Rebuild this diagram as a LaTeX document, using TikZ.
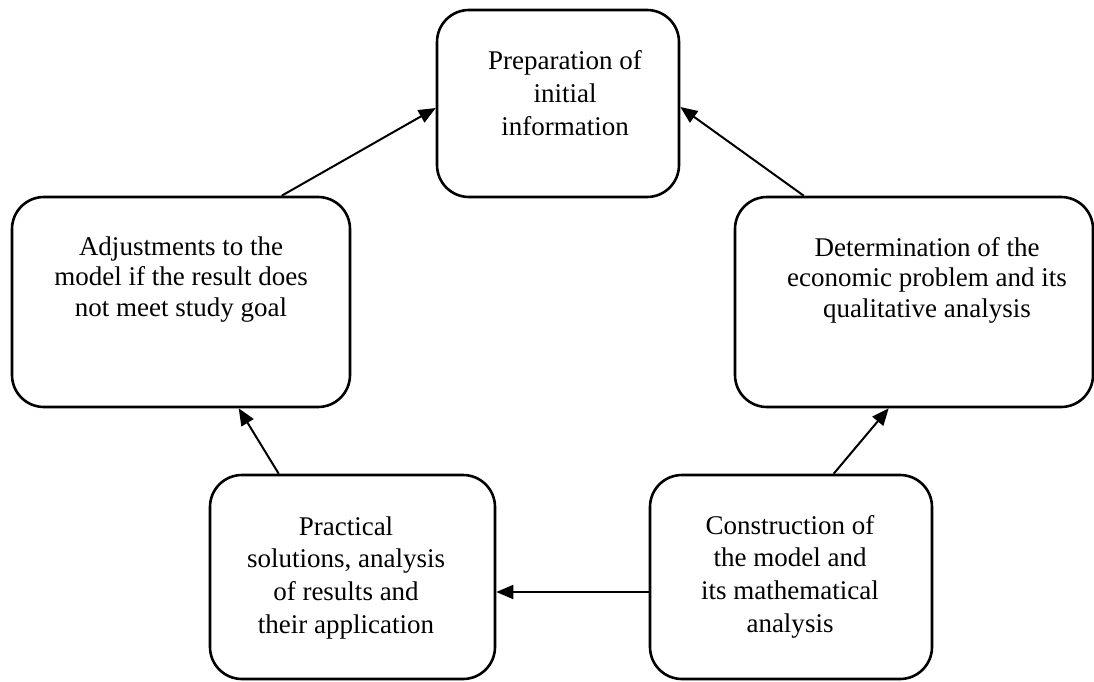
\documentclass[tikz,border=0pt]{standalone}
\usepackage{fontspec}
\setmainfont{Liberation Serif}
\usetikzlibrary{arrows.meta}
\newcommand{\txtlines}[1]{\setlength{\tabcolsep}{0pt}\begin{tabular}[t]{c}#1\end{tabular}}
\begin{document}
\begin{tikzpicture}[x=1pt,y=-1pt,
  box/.style={draw, line width=2.6pt, rounded corners=32pt, inner sep=0pt},
  lbl/.style={inner sep=0pt, anchor=base},
  arr/.style={line width=2pt, -{Triangle[length=17pt,width=14pt]}}]
\useasboundingbox (0,0) rectangle (1094,682);
% boxes
\node[box, minimum width=242pt, minimum height=187pt] (top) at (558,103.5) {};
\node[box, minimum width=338pt, minimum height=210pt] (lft) at (181,302) {};
\node[box, minimum width=358pt, minimum height=210pt] (rgt) at (914,302) {};
\node[box, minimum width=285pt, minimum height=204pt] (bl) at (352.5,577) {};
\node[box, minimum width=282pt, minimum height=204pt] (br) at (791,577) {};
% texts
\node[lbl, font=\fontsize{27}{33}\selectfont] (toptxt) at (565,70)
  {\txtlines{Preparation of\\ initial\\ information}};
\node[lbl, font=\fontsize{27}{30.5}\selectfont] (lfttxt) at (181,255)
  {\txtlines{Adjustments to the\\ model if the result does\\ not meet study goal}};
\node[lbl, font=\fontsize{27}{30.5}\selectfont] (rgttxt) at (927,256)
  {\txtlines{Determination of the\\ economic problem and its\\ qualitative analysis}};
\node[lbl, font=\fontsize{27}{32.7}\selectfont] (bltxt) at (346,535)
  {\txtlines{Practical\\ solutions, analysis\\ of results and\\ their application}};
\node[lbl, font=\fontsize{27}{32.7}\selectfont] (brtxt) at (790,534)
  {\txtlines{Construction of\\ the model and\\ its mathematical\\ analysis}};
% arrows
\draw[arr] ([xshift=271pt]lft.north west) -- ([yshift=-4.5pt]top.west);
\draw[arr] ([xshift=70pt]rgt.north west) -- ([yshift=-3.5pt]top.east);
\draw[arr] ([xshift=185pt]br.north west) -- ([xshift=155pt]rgt.south west);
\draw[arr] ([yshift=-15pt]br.west) -- ([yshift=-15pt]bl.east);
\draw[arr] ([xshift=70pt]bl.north west) -- ([xshift=228pt]lft.south west);
\end{tikzpicture}
\end{document}
